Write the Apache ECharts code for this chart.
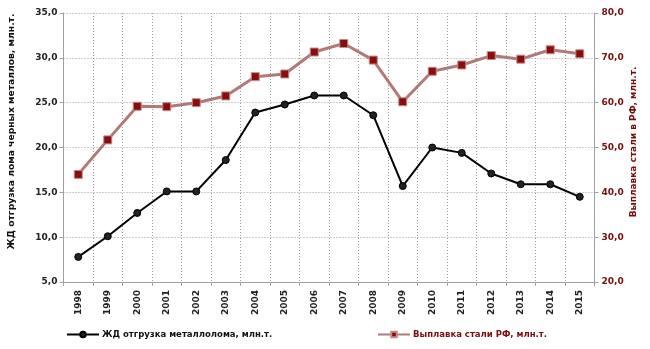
<!DOCTYPE html>
<html>
<head>
<meta charset="utf-8">
<script src="https://cdn.jsdelivr.net/npm/echarts@6/dist/echarts.min.js"></script>
<style>
  html, body { margin: 0; padding: 0; background: #fff; }
  #chart { width: 650px; height: 349px; }
</style>
</head>
<body>
<div id="chart"></div>
<script>
// Годы
const years = ['1998','1999','2000','2001','2002','2003','2004','2005','2006','2007','2008','2009','2010','2011','2012','2013','2014','2015'];
// ЖД отгрузка металлолома, млн.т. (левая ось)
const scrapShipments = [7.8, 10.1, 12.7, 15.1, 15.1, 18.6, 23.9, 24.8, 25.8, 25.8, 23.6, 15.7, 20.0, 19.4, 17.1, 15.9, 15.9, 14.5];
// Выплавка стали РФ, млн.т. (правая ось)
const steelOutput = [44.0, 51.7, 59.2, 59.1, 60.0, 61.5, 65.8, 66.4, 71.3, 73.2, 69.5, 60.2, 67.0, 68.4, 70.5, 69.7, 71.8, 70.9];

const scrapName = 'ЖД отгрузка металлолома, млн.т.';
const steelName = 'Выплавка стали РФ, млн.т.';
const leftTitle = 'ЖД отгрузка лома черных металлов, млн.т.';
const rightTitle = 'Выплавка стали в РФ, млн.т.';

const FONT = 'DejaVu Sans';
const DARK_RED = '#7a0c0c';
const fmt = v => v.toFixed(1).replace('.', ',');

const gridLine = { show: true, lineStyle: { color: '#9a9a9a', type: [1, 2], width: 1 } };
const axisLine = { show: true, lineStyle: { color: '#a0a0a0', width: 1 } };
const tick = { show: true, length: 4, lineStyle: { color: '#a0a0a0' } };

const chart = echarts.init(document.getElementById('chart'), null, { renderer: 'canvas' });
chart.setOption({
  animation: false,
  backgroundColor: '#ffffff',
  grid: { left: 63.5, right: 55.5, top: 13, bottom: 67, containLabel: false, outerBoundsMode: 'none' },
  // Вертикальные подписи осей
  graphic: [
    {
      type: 'text', x: 12, y: 131.5, rotation: Math.PI / 2, silent: true,
      style: { text: leftTitle, fontFamily: FONT, fontSize: 9.2, fontWeight: 'bold', fill: '#111', align: 'center', verticalAlign: 'middle' }
    },
    {
      type: 'text', x: 634, y: 142, rotation: Math.PI / 2, silent: true,
      style: { text: rightTitle, fontFamily: FONT, fontSize: 9, fontWeight: 'bold', fill: DARK_RED, align: 'center', verticalAlign: 'middle' }
    }
  ],
  legend: [
    {
      data: [scrapName], left: 66, top: 330, padding: 0, itemWidth: 32, itemHeight: 7, itemGap: 4,
      textStyle: { fontFamily: FONT, fontSize: 8.5, fontWeight: 'bold', color: '#111', padding: [0, 0, 0, -2] }
    },
    {
      data: [steelName], left: 377, top: 330, padding: 0, itemWidth: 32, itemHeight: 7, itemGap: 4,
      textStyle: { fontFamily: FONT, fontSize: 8.5, fontWeight: 'bold', color: DARK_RED, padding: [0, 0, 0, -2] }
    }
  ],
  xAxis: {
    type: 'category',
    data: years,
    boundaryGap: true,
    axisLine: axisLine,
    axisTick: tick,
    splitLine: gridLine,
    axisLabel: { rotate: 90, interval: 0, margin: 8, fontFamily: FONT, fontSize: 9, fontWeight: 'bold', color: '#222' }
  },
  yAxis: [
    {
      type: 'value', min: 5, max: 35, interval: 5, position: 'left',
      axisLine: axisLine,
      axisTick: tick,
      splitLine: gridLine,
      axisLabel: { formatter: fmt, margin: 6, fontFamily: FONT, fontSize: 9, fontWeight: 'bold', color: '#222' }
    },
    {
      type: 'value', min: 20, max: 80, interval: 10, position: 'right',
      axisLine: axisLine,
      axisTick: tick,
      splitLine: { show: false },
      axisLabel: { formatter: fmt, margin: 7, fontFamily: FONT, fontSize: 9, fontWeight: 'bold', color: DARK_RED }
    }
  ],
  series: [
    {
      name: scrapName, type: 'line', yAxisIndex: 0, data: scrapShipments,
      symbol: 'circle', symbolSize: 7,
      lineStyle: { color: '#000', width: 2 },
      itemStyle: { color: '#222', borderColor: '#000', borderWidth: 1 },
      z: 3
    },
    {
      name: steelName, type: 'line', yAxisIndex: 1, data: steelOutput,
      symbol: 'rect', symbolSize: 8,
      lineStyle: { color: '#b07a7a', width: 3 },
      itemStyle: { color: '#8b0c0c', borderColor: '#c48a8a', borderWidth: 1 },
      z: 2
    }
  ]
});
</script>
</body>
</html>
